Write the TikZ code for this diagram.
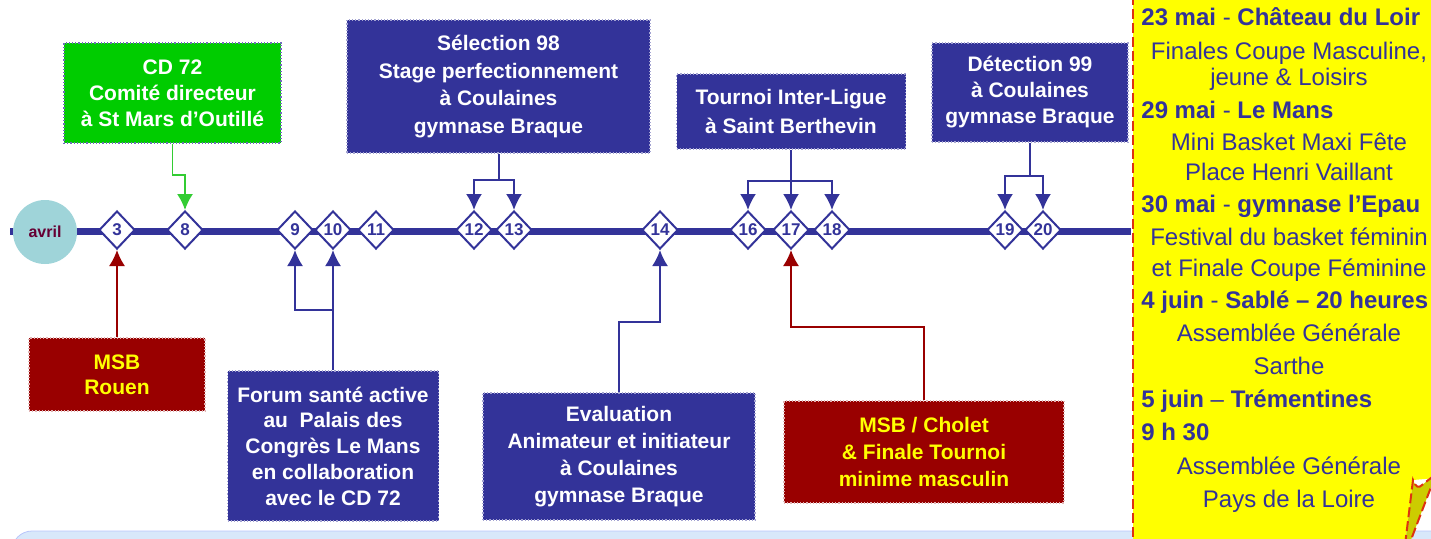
\documentclass[tikz,border=0pt]{standalone}
\usepackage{fontspec}
\setmainfont{Liberation Sans}
\usetikzlibrary{shapes.geometric,arrows.meta}
\definecolor{tlblue}{HTML}{333399}
\definecolor{tlred}{HTML}{990000}
\definecolor{tlgreen}{HTML}{00CC00}
\definecolor{arrgreen}{HTML}{33CC33}
\definecolor{avrilbg}{HTML}{9FD4D9}
\definecolor{avriltx}{HTML}{660033}
\definecolor{notebg}{HTML}{FFFF00}
\definecolor{notered}{HTML}{DD3311}
\definecolor{noteflap}{HTML}{CCCC00}
\definecolor{bandblue}{HTML}{D8E8FA}
\begin{document}
\begin{tikzpicture}
                                [
                                    x=0.5pt, y=-0.5pt,
                                    box/.style = {shape=rectangle, align=center, inner sep=0pt, densely dotted, line width=0.6pt, font=\bfseries\fontsize{10.5}{13}\selectfont},
                                    bluebox/.style = {box, fill=tlblue, draw=white!55!tlblue, text=white},
                                    redbox/.style = {box, fill=tlred, draw=white!70!tlred, text=notebg},
                                    greenbox/.style = {box, fill=tlgreen, draw=tlblue!70, text=white},
                                    day/.style = {draw=tlblue, fill=white, shape=diamond, line width=1pt, inner sep=0pt, minimum width=18pt, minimum height=19pt, text=tlblue, font=\bfseries\fontsize{8.5}{9}\selectfont},
                                    link/.style = {draw=tlblue, line width=1pt},
                                    linkarr/.style = {link, -{Latex[width=8pt,length=8pt]}},
                                    redarr/.style = {draw=tlred, line width=0.8pt, -{Latex[width=8pt,length=8pt]}},
                                    greenarr/.style = {draw=arrgreen, line width=0.8pt, -{Latex[width=8pt,length=8pt]}},
                                    notehead/.style = {anchor=west, inner sep=0pt, text height=8.6pt, text depth=0pt, text=tlblue, font=\bfseries\fontsize{12}{14}\selectfont},
                                    noteline/.style = {notehead, anchor=center, font=\fontsize{12}{14}\selectfont},
                                    notedash/.style = {draw=notered, line width=1pt, dash pattern=on 5pt off 2pt},
                                ]

                                \useasboundingbox (0,0) rectangle (1431,538);
                                \clip (0,0) rectangle (1431,538);

                                \fill[bandblue, draw=bandblue!85!blue, rounded corners=10pt] (12,531) rectangle (1460,580);

                                \fill[notebg] (1133,-5) -- (1436,-5) -- (1436,478) -- (1413,480) -- (1405,545) -- (1133,545) -- cycle;
                                \filldraw[fill=noteflap, notedash] (1405,545) -- (1413,480) .. controls (1416,488) and (1419,488) .. (1422,485) -- (1436,474) -- (1409,545);
                                \draw[notedash] (1133,-5) -- (1133,545);

                                \coordinate (tl0) at (10,231);
                                \coordinate (tl1) at (1131,231);
                                \draw[tlblue, line width=3.5pt] (tl0) -- (tl1);

                                \node[circle, fill=avrilbg, minimum size=32pt, inner sep=0pt, text=avriltx, font=\bfseries\fontsize{8}{9}\selectfont] (avril) at (45,232) {avril};

                                \foreach \n/\x in {3/117, 8/185, 9/295, 10/333, 11/376, 12/474, 13/514, 14/660, 16/748, 17/791, 18/832, 19/1005, 20/1043}
                                    \node[day] (d\n) at (\x,230) {\n};

                                \node[greenbox, minimum width=108.5pt, minimum height=50pt] (cd72) at (172.5,93) {CD 72\\Comité directeur\\à St Mars d’Outillé};
                                \node[bluebox, minimum width=151.5pt, minimum height=66.5pt, font=\bfseries\fontsize{10.5}{13.8}\selectfont] (sel) at (498.5,86.5) {Sélection 98\\Stage perfectionnement\\à Coulaines\\gymnase Braque};
                                \node[bluebox, minimum width=114.5pt, minimum height=37.5pt, font=\bfseries\fontsize{10.5}{14.5}\selectfont] (tour) at (791,111.5) {Tournoi Inter-Ligue\\à Saint Berthevin};
                                \node[bluebox, minimum width=98pt, minimum height=49.5pt] (det) at (1030,92.5) {Détection 99\\à Coulaines\\gymnase Braque};

                                \node[redbox, minimum width=88pt, minimum height=36.5pt, font=\bfseries\fontsize{10.5}{12.5}\selectfont] (rouen) at (117,374.5) {MSB\\Rouen};
                                \node[bluebox, minimum width=105.5pt, minimum height=75pt, font=\bfseries\fontsize{10.5}{12.9}\selectfont] (forum) at (333,446) {Forum santé active\\au\ \ Palais des\\Congrès Le Mans\\en collaboration\\avec le CD 72};
                                \node[bluebox, minimum width=136pt, minimum height=63.5pt, font=\bfseries\fontsize{10.5}{13.4}\selectfont] (eval) at (619,456.5) {Evaluation\\Animateur et initiateur\\à Coulaines\\gymnase Braque};
                                \node[redbox, minimum width=140pt, minimum height=51pt, font=\bfseries\fontsize{10.5}{13.5}\selectfont] (cholet) at (924,452) {MSB / Cholet\\\& Finale Tournoi\\minime masculin};

                                \coordinate (cdj) at (172.5,175);
                                \coordinate (selj) at (498.5,180);
                                \coordinate (tourj) at (791,181);
                                \coordinate (detj) at (1030,176);
                                \coordinate (forj) at (333,310);
                                \coordinate (evj) at (619,322);
                                \coordinate (chj) at (924,327);

                                \draw [greenarr] (cd72.south) -- (cdj) -| (d8.north);

                                \draw [link] (sel.south) -- (selj);
                                \draw [linkarr] (selj) -| (d12.north);
                                \draw [linkarr] (selj) -| (d13.north);

                                \draw [linkarr] (tour.south) -- (d17.north);
                                \draw [linkarr] (tourj) -| (d16.north);
                                \draw [linkarr] (tourj) -| (d18.north);

                                \draw [link] (det.south) -- (detj);
                                \draw [linkarr] (detj) -| (d19.north);
                                \draw [linkarr] (detj) -| (d20.north);

                                \draw [redarr] (rouen.north) -- (d3.south);
                                \draw [linkarr] (forum.north) -- (d10.south);
                                \draw [linkarr] (forj) -| (d9.south);
                                \draw [linkarr] (eval.north) -- (evj) -| (d14.south);
                                \draw [redarr] (cholet.north) -- (chj) -| (d17.south);

                                \foreach \y/\t [count=\i] in {17/{23 mai {\mdseries -} Château du Loir}, 110/{29 mai {\mdseries -} Le Mans}, 204/{30 mai {\mdseries -} gymnase l’Epau}, 300/{4 juin {\mdseries -} Sablé – 20 heures}, 399/{5 juin {\mdseries –} Trémentines}, 432/{9 h 30}}
                                    \node[notehead] (head\i) at (1141,\y) {\t};

                                \foreach \y/\t [count=\i] in {51/{Finales Coupe Masculine,}, 77/{jeune \& Loisirs}, 142/{Mini Basket Maxi Fête}, 172/{Place Henri Vaillant}, 237/{Festival du basket féminin}, 268/{et Finale Coupe Féminine}, 333/{Assemblée Générale}, 366/{Sarthe}, 466/{Assemblée Générale}, 499/{Pays de la Loire}}
                                    \node[noteline] (line\i) at (1289,\y) {\t};
                            \end{tikzpicture}
\end{document}
